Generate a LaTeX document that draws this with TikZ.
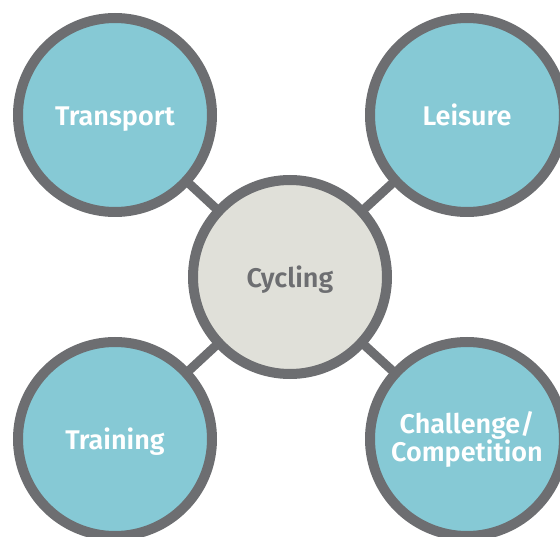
\documentclass[tikz,border=0pt]{standalone}
\usepackage{fontspec}
\setsansfont{Fira Sans}[BoldFont={Fira Sans SemiBold}]
\usepackage{xcolor}
\usepackage{tikz}
\usetikzlibrary{backgrounds}
\definecolor{ring}{HTML}{6D6E71}
\definecolor{teal}{HTML}{86C9D5}
\definecolor{hubfill}{HTML}{E0E0D9}
\definecolor{white}{HTML}{FFFFFF}
\tikzset{
  topic/.style={circle, draw=ring, line width=10pt, fill=teal, minimum size=194pt,
    inner sep=0pt, align=center, text=white, font=\sffamily\bfseries\fontsize{27}{28}\selectfont},
  oneline/.style={text height=22pt, text depth=0pt},
  hub/.style={topic, fill=hubfill, text=ring},
  link/.style={draw=ring, line width=9pt}
}

\begin{document}
\begin{tikzpicture}[x=1pt, y=1pt]
  \useasboundingbox (0,0) rectangle (560,536);

  \node[hub, oneline]   (cyc)   at (290,259) {Cycling};
  \node[topic, oneline] (trans) at (115,421) {Transport};
  \node[topic, oneline] (leis)  at (467,421) {Leisure};
  \node[topic, oneline] (train) at (115,97)  {Training};
  \node[topic]          (chal)  at (467,97)  {Challenge/\\Competition};

  % spokes sit behind the circles
  \begin{scope}[on background layer]
    \draw[link] (cyc.center) -- (trans.center);
    \draw[link] (cyc.center) -- (leis.center);
    \draw[link] (cyc.center) -- (train.center);
    \draw[link] (cyc.center) -- (chal.center);
  \end{scope}
\end{tikzpicture}
\end{document}
